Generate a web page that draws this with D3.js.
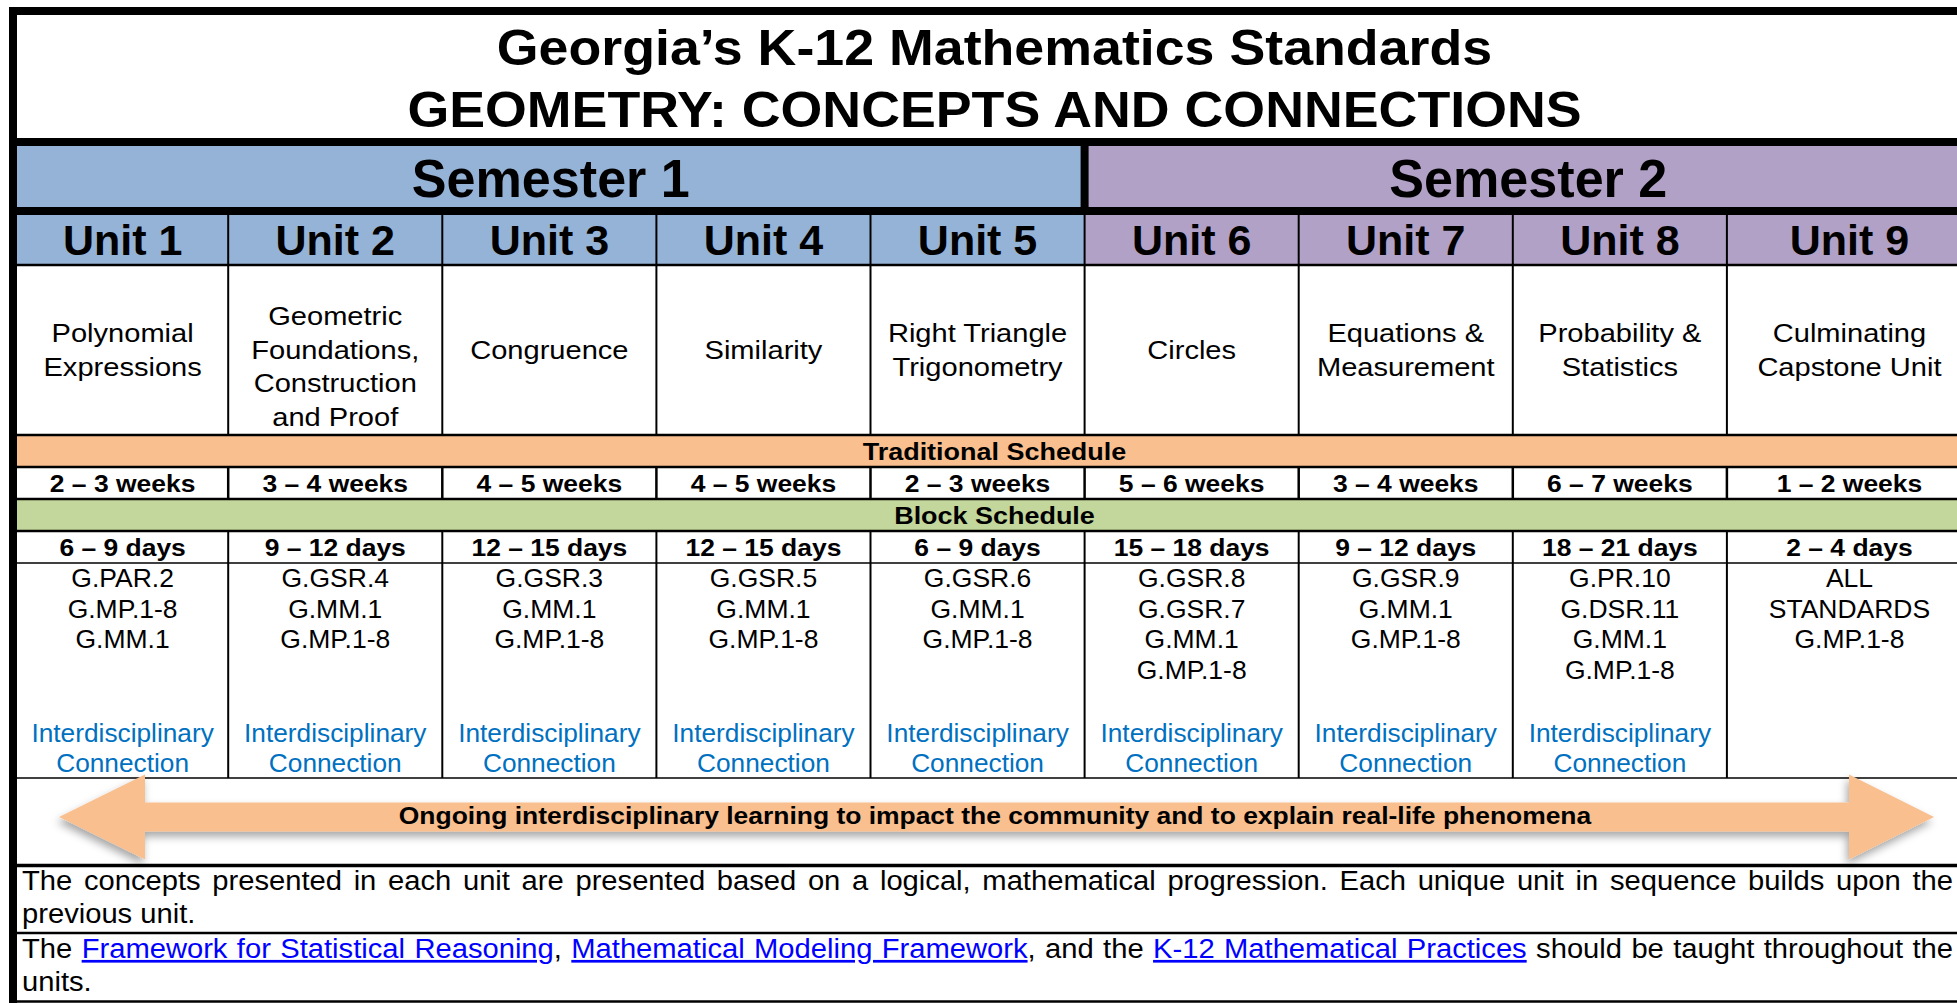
<!doctype html>
<html>
<head>
<meta charset="utf-8">
<title>Geometry: Concepts and Connections</title>
<script src="https://cdn.jsdelivr.net/npm/d3@7"></script>
<style>
	body { margin: 0; background: #fff; }
	svg { display: block; font-family: "Liberation Sans", Arial, sans-serif; }
</style>
</head>
<body>
<script>
// ---- data ----
var titleLines = ["Georgia\u2019s K-12 Mathematics Standards", "GEOMETRY: CONCEPTS AND CONNECTIONS"]
var semesters = ["Semester 1", "Semester 2"]
var semesterUnits = [5, 4]
var units = ["Unit 1", "Unit 2", "Unit 3", "Unit 4", "Unit 5", "Unit 6", "Unit 7", "Unit 8", "Unit 9"]
var unitTitles = [
	["Polynomial", "Expressions"],
	["Geometric", "Foundations,", "Construction", "and Proof"],
	["Congruence"],
	["Similarity"],
	["Right Triangle", "Trigonometry"],
	["Circles"],
	["Equations &", "Measurement"],
	["Probability &", "Statistics"],
	["Culminating", "Capstone Unit"]
]
var scheduleLabels = ["Traditional Schedule", "Block Schedule"]
var traditionalWeeks = ["2 \u2013 3 weeks", "3 \u2013 4 weeks", "4 \u2013 5 weeks", "4 \u2013 5 weeks", "2 \u2013 3 weeks",
	"5 \u2013 6 weeks", "3 \u2013 4 weeks", "6 \u2013 7 weeks", "1 \u2013 2 weeks"]
var blockDays = ["6 \u2013 9 days", "9 \u2013 12 days", "12 \u2013 15 days", "12 \u2013 15 days", "6 \u2013 9 days",
	"15 \u2013 18 days", "9 \u2013 12 days", "18 \u2013 21 days", "2 \u2013 4 days"]
var standards = [
	["G.PAR.2", "G.MP.1-8", "G.MM.1"],
	["G.GSR.4", "G.MM.1", "G.MP.1-8"],
	["G.GSR.3", "G.MM.1", "G.MP.1-8"],
	["G.GSR.5", "G.MM.1", "G.MP.1-8"],
	["G.GSR.6", "G.MM.1", "G.MP.1-8"],
	["G.GSR.8", "G.GSR.7", "G.MM.1", "G.MP.1-8"],
	["G.GSR.9", "G.MM.1", "G.MP.1-8"],
	["G.PR.10", "G.DSR.11", "G.MM.1", "G.MP.1-8"],
	["ALL", "STANDARDS", "G.MP.1-8"]
]
var connectionText = ["Interdisciplinary", "Connection"]
var hasConnection = [true, true, true, true, true, true, true, true, false]
var arrowText = "Ongoing interdisciplinary learning to impact the community and to explain real-life phenomena"
var note1 = [
	[{ t: "The concepts presented in each unit are presented based on a logical, mathematical progression. Each unique unit in sequence builds upon the" }],
	[{ t: "previous unit." }]
]
var note2 = [
	[{ t: "The " }, { t: "Framework for Statistical Reasoning", link: true }, { t: ", " },
	 { t: "Mathematical Modeling Framework", link: true }, { t: ", and the " },
	 { t: "K-12 Mathematical Practices", link: true }, { t: " should be taught throughout the" }],
	[{ t: "units." }]
]

// ---- layout ----
var width = 1957
var height = 1003
var tableLeft = 17
var tableRight = 1972
var mid = (tableLeft + tableRight) / 2
var rows = {
	title: [15, 138], sem: [146, 207], unit: [215, 265], name: [265, 435],
	trad: [435, 467], weeks: [467, 499], block: [499, 531], days: [531, 563],
	stds: [563, 778], arrow: [778, 865], note1: [865, 933], note2: [933, 1001]
}
var colors = { sem1: "#95B3D7", sem2: "#B2A1C7", trad: "#F9BF8F", block: "#C3D69B", conn: "#0070C0", link: "#0000FF" }

var x = d3.scaleBand().domain(units).range([14.1, 14.1 + 9 * 214.1]).padding(0)
function colLeft(u) { return Math.max(x(u), tableLeft) }
function colRight(u) { return u === units[units.length - 1] ? tableRight : x(u) + x.bandwidth() }
function colMid(u) { return (colLeft(u) + colRight(u)) / 2 }

var styles = {
	title: { size: 50, bold: true, sx: 1.075 },
	sem: { size: 54, bold: true, sx: 0.965 },
	unit: { size: 43, bold: true, sx: 1.0 },
	name: { size: 25.5, sx: 1.14 },
	sched: { size: 24.5, bold: true, sx: 1.1 },
	dur: { size: 24.5, bold: true, sx: 1.08 },
	std: { size: 25, sx: 1.06 },
	conn: { size: 25.5, sx: 1.03, color: colors.conn },
	arrow: { size: 23, bold: true, sx: 1.15 },
	note: { size: 27, sx: 1.08, anchor: "start" }
}

var svg = d3.select("body").append("svg")
	.attr("width", width)
	.attr("height", height)

var defs = svg.append("defs")
defs.append("filter").attr("id", "shadow")
	.attr("x", "-5%").attr("y", "-40%").attr("width", "110%").attr("height", "190%")
	.append("feDropShadow")
	.attr("dx", -2).attr("dy", 5).attr("stdDeviation", 4)
	.attr("flood-color", "#000").attr("flood-opacity", 0.35)

function put(sel, px, py, str, st) {
	return sel.append("text")
		.attr("transform", "translate(" + px + "," + py + ") scale(" + st.sx + ",1)")
		.attr("text-anchor", st.anchor || "middle")
		.attr("font-size", st.size)
		.attr("font-weight", st.bold ? "bold" : "normal")
		.attr("fill", st.color || "#000")
		.text(str)
}

// ---- fills ----
var semStart = [0, semesterUnits[0]]
semesters.forEach(function(s, i) {
	var first = units[semStart[i]]
	var last = units[semStart[i] + semesterUnits[i] - 1]
	svg.append("rect")
		.attr("x", colLeft(first)).attr("y", rows.sem[0])
		.attr("width", colRight(last) - colLeft(first)).attr("height", rows.unit[1] - rows.sem[0])
		.attr("fill", i === 0 ? colors.sem1 : colors.sem2)
})
svg.append("rect").attr("x", tableLeft).attr("y", rows.trad[0])
	.attr("width", tableRight - tableLeft).attr("height", rows.trad[1] - rows.trad[0]).attr("fill", colors.trad)
svg.append("rect").attr("x", tableLeft).attr("y", rows.block[0])
	.attr("width", tableRight - tableLeft).attr("height", rows.block[1] - rows.block[0]).attr("fill", colors.block)

// ---- grid lines ----
var grid = svg.append("g").attr("stroke", "#000")
function hline(y, w) {
	grid.append("line").attr("x1", 9).attr("x2", tableRight + 5).attr("y1", y).attr("y2", y).attr("stroke-width", w)
}
function vline(xx, y1, y2, w) {
	grid.append("line").attr("x1", xx).attr("x2", xx).attr("y1", y1).attr("y2", y2).attr("stroke-width", w)
}
units.slice(1).forEach(function(u) {
	vline(x(u), rows.unit[0], rows.name[1], 2)
	vline(x(u), rows.weeks[0], rows.weeks[1], 2.5)
	vline(x(u), rows.days[0], rows.stds[1], 2)
})
vline(x(units[semesterUnits[0]]), rows.title[1], rows.unit[0], 8)
hline(rows.unit[1], 2.5)
hline(rows.name[1], 2.5)
hline(rows.trad[1], 2.5)
hline(rows.weeks[1], 2.5)
hline(rows.block[1], 2.5)
hline(rows.days[1], 1.5)
hline(rows.stds[1], 1.5)
hline(rows.arrow[1] + 0.5, 3.5)
hline(rows.note1[1], 2.5)
hline(rows.note2[1] + 0.5, 2.5)
hline(11, 8)
hline(rows.title[1] + 4, 8)
hline(rows.sem[1] + 4, 8)
vline(13, 7, height, 8)

// ---- title ----
put(svg, mid, 65, titleLines[0], styles.title)
put(svg, mid, 127, titleLines[1], styles.title)

// ---- semesters ----
semesters.forEach(function(s, i) {
	var first = units[semStart[i]]
	var last = units[semStart[i] + semesterUnits[i] - 1]
	put(svg, (colLeft(first) + colRight(last)) / 2, 197, s, styles.sem)
})

// ---- unit columns ----
var lh = 33.7
units.forEach(function(u, i) {
	var cx = colMid(u)
	put(svg, cx, 255, u, styles.unit)

	var lines = unitTitles[i]
	var first = (rows.name[0] + rows.name[1]) / 2 + 9 - (lines.length - 1) / 2 * lh
	if (lines.length > 3) first = rows.name[1] - 9 - (lines.length - 1) * lh
	lines.forEach(function(l, j) { put(svg, cx, first + j * lh, l, styles.name) })

	put(svg, cx, 492, traditionalWeeks[i], styles.dur)
	put(svg, cx, 556, blockDays[i], styles.dur)

	standards[i].forEach(function(s, j) { put(svg, cx, 587 + j * 30.5, s, styles.std) })
	if (hasConnection[i]) {
		connectionText.forEach(function(c, j) { put(svg, cx, 742 + j * 30, c, styles.conn) })
	}
})

put(svg, mid, 460, scheduleLabels[0], styles.sched)
put(svg, mid, 524, scheduleLabels[1], styles.sched)

// ---- arrow ----
var ay = 817, head = 42.5, shaft = 14.5
var ax = [59, 145, 1849, 1934]
svg.append("path")
	.attr("d", d3.line()([
		[ax[0], ay], [ax[1], ay - head], [ax[1], ay - shaft], [ax[2], ay - shaft], [ax[2], ay - head],
		[ax[3], ay], [ax[2], ay + head], [ax[2], ay + shaft], [ax[1], ay + shaft], [ax[1], ay + head]
	]) + "Z")
	.attr("fill", colors.trad)
	.attr("filter", "url(#shadow)")
put(svg, 995, 824, arrowText, styles.arrow)

// ---- notes ----
function note(lines, baselines) {
	lines.forEach(function(parts, j) {
		var st = styles.note
		var t = svg.append("text")
			.attr("transform", "translate(22," + baselines[j] + ") scale(" + st.sx + ",1)")
			.attr("font-size", st.size)
			.attr("fill", "#000")
		parts.forEach(function(p) {
			var ts = t.append("tspan").text(p.t)
			if (p.link) ts.attr("fill", colors.link).style("text-decoration", "underline")
		})
		if (j === 0) {
			var full = parts.map(function(p) { return p.t }).join("")
			var gaps = full.split(" ").length - 1
			var natural = t.node().getComputedTextLength()
			var target = (1953 - 22) / st.sx
			t.attr("word-spacing", Math.max(0, (target - natural) / gaps))
		}
	})
}
note(note1, [890, 923])
note(note2, [958, 991])
</script>
</body>
</html>
